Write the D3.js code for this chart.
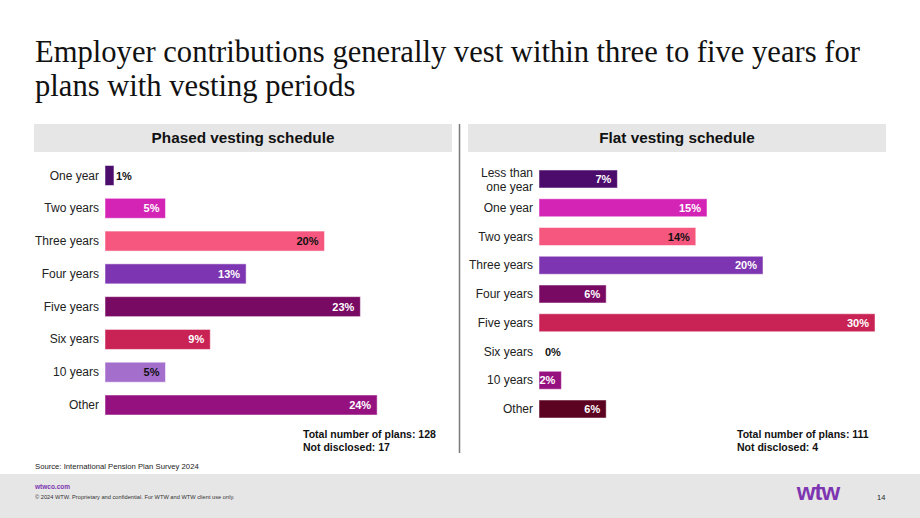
<!DOCTYPE html>
<html>
<head>
<meta charset="utf-8">
<script src="https://cdn.jsdelivr.net/npm/d3@7"></script>
<style>
  body { margin: 0; background: #fff; }
  svg { display: block; font-family: "Liberation Sans", Arial, sans-serif; }
</style>
</head>
<body>
<div id="chart"></div>
<script>
// phased vesting schedule (bar lengths, labels as printed)
const phasedCats = ['One year', 'Two years', 'Three years', 'Four years', 'Five years', 'Six years', '10 years', 'Other'];
const phasedVals = [0.8, 5.4, 19.6, 12.6, 22.8, 9.4, 5.4, 24.3];
const phasedLabels = ['1%', '5%', '20%', '13%', '23%', '9%', '5%', '24%'];
const phasedColors = ['#4b0c6b', '#d424b5', '#f5577f', '#7d35b1', '#790a64', '#c92254', '#a46ecd', '#961180'];
const phasedDark = [true, false, true, false, false, false, true, false];

// flat vesting schedule
const flatCats = ['Less than one year', 'One year', 'Two years', 'Three years', 'Four years', 'Five years', 'Six years', '10 years', 'Other'];
const flatVals = [7, 15, 14, 20, 6, 30, 0, 2, 6];
const flatLabels = ['7%', '15%', '14%', '20%', '6%', '30%', '0%', '2%', '6%'];
const flatColors = ['#4b0c6b', '#d424b5', '#f5577f', '#7d35b1', '#790a64', '#c92254', '#a46ecd', '#961180', '#5b0321'];
const flatDark = [false, false, true, false, false, false, true, false, false];

const W = 920, H = 518;
const svg = d3.select('#chart').append('svg')
    .attr('width', W)
    .attr('height', H);

// title
const titleLines = ['Employer contributions generally vest within three to five years for', 'plans with vesting periods'];
svg.selectAll('.title')
    .data(titleLines)
    .enter().append('text')
    .attr('class', 'title')
    .attr('x', 35)
    .attr('y', (d, i) => 62 + i * 34)
    .style('font-family', '"Liberation Serif", "Times New Roman", serif')
    .style('font-size', '30.6px')
    .attr('fill', '#111')
    .text(d => d);

// divider
svg.append('line')
    .attr('x1', 459.5).attr('x2', 459.5)
    .attr('y1', 124).attr('y2', 453)
    .attr('stroke', '#7a7a7a')
    .attr('stroke-width', 1.5);

function panel(opt) {
    const g = svg.append('g');

    g.append('rect')
        .attr('x', opt.hx).attr('y', 124)
        .attr('width', opt.hw).attr('height', 28)
        .attr('fill', '#e6e6e6');
    g.append('text')
        .attr('x', opt.hx + opt.hw / 2).attr('y', 143)
        .attr('text-anchor', 'middle')
        .style('font-size', '15.3px')
        .style('font-weight', 'bold')
        .attr('fill', '#111')
        .text(opt.title);

    const x = d3.scaleLinear()
        .domain([0, 30])
        .range([opt.x0, opt.x0 + 336]);
    const y = d3.scalePoint()
        .domain(opt.cats)
        .range(opt.yRange);

    const rows = opt.cats.map((c, i) => ({cat: c, v: opt.vals[i], lab: opt.labels[i], col: opt.colors[i], dark: opt.dark[i]}));

    g.selectAll('.bar')
        .data(rows.filter(d => d.v > 0))
        .enter().append('rect')
        .attr('class', 'bar')
        .attr('x', x(0))
        .attr('y', d => y(d.cat) - opt.bh / 2)
        .attr('width', d => x(d.v) - x(0))
        .attr('height', opt.bh)
        .attr('fill', d => d.col)
        .attr('stroke', '#fff')
        .attr('stroke-opacity', 0.5)
        .attr('stroke-width', 1);

    // category labels
    const lab = g.selectAll('.cat')
        .data(rows)
        .enter().append('text')
        .attr('class', 'cat')
        .attr('x', opt.x0 - 6)
        .attr('text-anchor', 'end')
        .style('font-size', '12px')
        .attr('fill', '#222');
    lab.each(function(d) {
        const t = d3.select(this);
        if (d.cat === 'Less than one year') {
            t.append('tspan').attr('x', opt.x0 - 6).attr('y', y(d.cat) - 2).text('Less than');
            t.append('tspan').attr('x', opt.x0 - 6).attr('y', y(d.cat) + 12).text('one year');
        } else {
            t.attr('y', y(d.cat) + 4).text(d.cat);
        }
    });

    // value labels: inside the bar end, or just after it when the bar is too short
    const outside = d => x(d.v) - x(0) < 20;
    g.selectAll('.val')
        .data(rows)
        .enter().append('text')
        .attr('class', 'val')
        .attr('x', d => outside(d) ? Math.max(x(d.v) + 2, x(0) + 6) : x(d.v) - 6)
        .attr('y', d => y(d.cat) + 4)
        .attr('text-anchor', d => outside(d) ? 'start' : 'end')
        .style('font-size', '11px')
        .style('font-weight', 'bold')
        .attr('fill', d => (outside(d) || d.dark) ? '#111' : '#fff')
        .text(d => d.lab);

    // notes
    g.selectAll('.note')
        .data(opt.notes)
        .enter().append('text')
        .attr('class', 'note')
        .attr('x', opt.nx)
        .attr('y', (d, i) => 438 + i * 13)
        .style('font-size', '10.5px')
        .style('font-weight', 'bold')
        .attr('fill', '#111')
        .text(d => d);
}

panel({
    title: 'Phased vesting schedule', hx: 34, hw: 418,
    cats: phasedCats, vals: phasedVals, labels: phasedLabels, colors: phasedColors, dark: phasedDark,
    x0: 105, yRange: [175.5, 405], bh: 20,
    nx: 303, notes: ['Total number of plans: 128', 'Not disclosed: 17']
});
panel({
    title: 'Flat vesting schedule', hx: 468, hw: 418,
    cats: flatCats, vals: flatVals, labels: flatLabels, colors: flatColors, dark: flatDark,
    x0: 539, yRange: [179, 409], bh: 18,
    nx: 737, notes: ['Total number of plans: 111', 'Not disclosed: 4']
});

// source
svg.append('text')
    .attr('x', 35).attr('y', 469)
    .style('font-size', '7.7px')
    .attr('fill', '#222')
    .text('Source: International Pension Plan Survey 2024');

// footer
svg.append('rect')
    .attr('x', 0).attr('y', 474)
    .attr('width', W).attr('height', H - 474)
    .attr('fill', '#e6e6e6');
svg.append('text')
    .attr('x', 35).attr('y', 489)
    .style('font-size', '6.5px')
    .style('font-weight', 'bold')
    .attr('fill', '#7d35b1')
    .text('wtwco.com');
svg.append('text')
    .attr('x', 35).attr('y', 499)
    .style('font-size', '5.7px')
    .attr('fill', '#333')
    .text('© 2024 WTW. Proprietary and confidential. For WTW and WTW client use only.');
svg.append('text')
    .attr('x', 818).attr('y', 500)
    .attr('text-anchor', 'middle')
    .style('font-size', '24px')
    .style('font-weight', 'bold')
    .style('letter-spacing', '-1px')
    .attr('fill', '#7d35b1')
    .text('wtw');
svg.append('text')
    .attr('x', 877).attr('y', 500)
    .style('font-size', '7.5px')
    .attr('fill', '#222')
    .text('14');
</script>
</body>
</html>
